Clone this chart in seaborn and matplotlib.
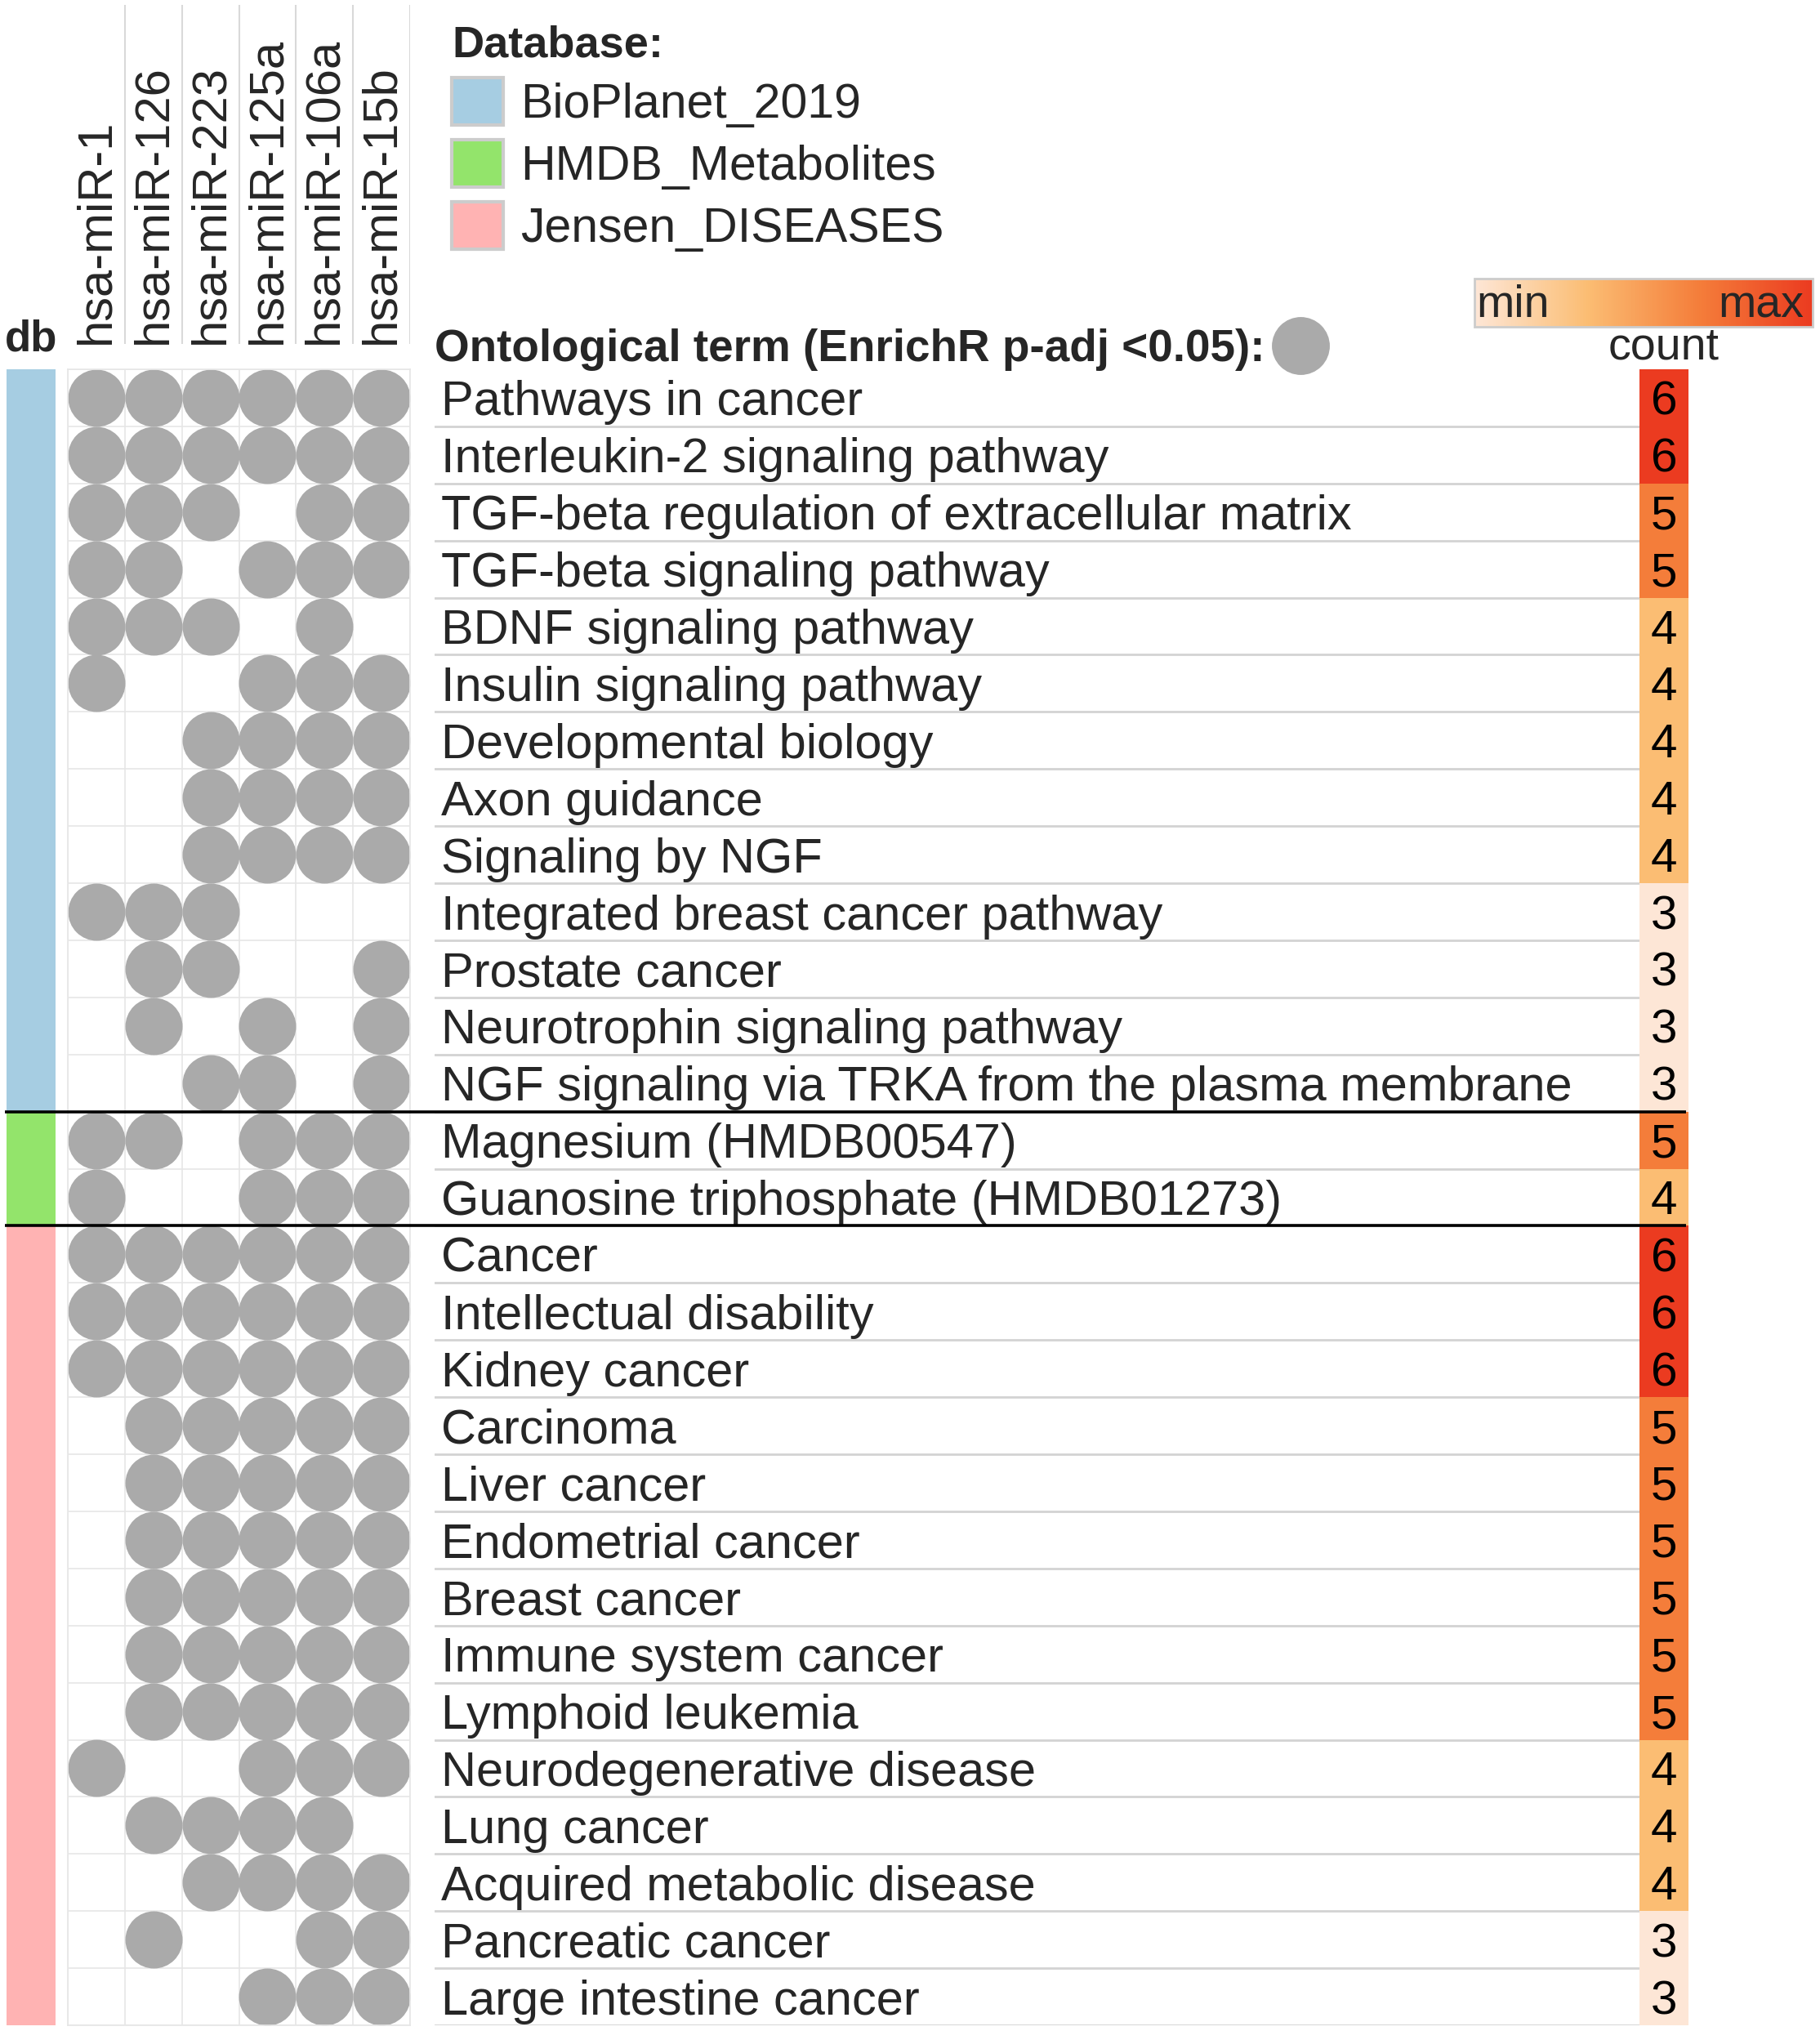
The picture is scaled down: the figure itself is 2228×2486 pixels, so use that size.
import numpy as np
import pandas as pd
import matplotlib
matplotlib.use("Agg")
import matplotlib.pyplot as plt
from matplotlib.colors import ListedColormap, LinearSegmentedColormap, Normalize
from matplotlib.cm import ScalarMappable
from matplotlib.patches import Patch
from matplotlib.lines import Line2D
import seaborn as sns

# --- data ---
mirnas = ["hsa-miR-1", "hsa-miR-126", "hsa-miR-223", "hsa-miR-125a", "hsa-miR-106a", "hsa-miR-15b"]

terms = [
    "Pathways in cancer",
    "Interleukin-2 signaling pathway",
    "TGF-beta regulation of extracellular matrix",
    "TGF-beta signaling pathway",
    "BDNF signaling pathway",
    "Insulin signaling pathway",
    "Developmental biology",
    "Axon guidance",
    "Signaling by NGF",
    "Integrated breast cancer pathway",
    "Prostate cancer",
    "Neurotrophin signaling pathway",
    "NGF signaling via TRKA from the plasma membrane",
    "Magnesium (HMDB00547)",
    "Guanosine triphosphate (HMDB01273)",
    "Cancer",
    "Intellectual disability",
    "Kidney cancer",
    "Carcinoma",
    "Liver cancer",
    "Endometrial cancer",
    "Breast cancer",
    "Immune system cancer",
    "Lymphoid leukemia",
    "Neurodegenerative disease",
    "Lung cancer",
    "Acquired metabolic disease",
    "Pancreatic cancer",
    "Large intestine cancer",
]

db_names = ["BioPlanet_2019", "HMDB_Metabolites", "Jensen_DISEASES"]
db_colors = ["#a6cde2", "#93e46b", "#ffb3b3"]
term_db = ["BioPlanet_2019"] * 13 + ["HMDB_Metabolites"] * 2 + ["Jensen_DISEASES"] * 14

# 1 = enriched (p-adj < 0.05) for that miRNA
hits = [
    [1, 1, 1, 1, 1, 1],
    [1, 1, 1, 1, 1, 1],
    [1, 1, 1, 0, 1, 1],
    [1, 1, 0, 1, 1, 1],
    [1, 1, 1, 0, 1, 0],
    [1, 0, 0, 1, 1, 1],
    [0, 0, 1, 1, 1, 1],
    [0, 0, 1, 1, 1, 1],
    [0, 0, 1, 1, 1, 1],
    [1, 1, 1, 0, 0, 0],
    [0, 1, 1, 0, 0, 1],
    [0, 1, 0, 1, 0, 1],
    [0, 0, 1, 1, 0, 1],
    [1, 1, 0, 1, 1, 1],
    [1, 0, 0, 1, 1, 1],
    [1, 1, 1, 1, 1, 1],
    [1, 1, 1, 1, 1, 1],
    [1, 1, 1, 1, 1, 1],
    [0, 1, 1, 1, 1, 1],
    [0, 1, 1, 1, 1, 1],
    [0, 1, 1, 1, 1, 1],
    [0, 1, 1, 1, 1, 1],
    [0, 1, 1, 1, 1, 1],
    [0, 1, 1, 1, 1, 1],
    [1, 0, 0, 1, 1, 1],
    [0, 1, 1, 1, 1, 0],
    [0, 0, 1, 1, 1, 1],
    [0, 1, 0, 0, 1, 1],
    [0, 0, 0, 1, 1, 1],
]

counts = [6, 6, 5, 5, 4, 4, 4, 4, 4, 3, 3, 3, 3, 5, 4, 6, 6, 6, 5, 5, 5, 5, 5, 5, 4, 4, 4, 3, 3]
count_colors = ["#fde6d6", "#fbbd73", "#f47d3a", "#eb3b20"]

# --- style ---
sns.set_style("white")
plt.rcParams["font.family"] = ["Liberation Sans", "DejaVu Sans"]

n = len(terms)
hit_df = pd.DataFrame(hits, columns=mirnas)
hit_df["row"] = range(n)
long_df = hit_df.melt(id_vars="row", var_name="mirna", value_name="hit")
long_df["col"] = long_df["mirna"].map({m: i for i, m in enumerate(mirnas)})
long_df = long_df[long_df["hit"] == 1]

cnt_cmap = LinearSegmentedColormap.from_list("cnt", count_colors)
db_codes = np.array([db_names.index(d) for d in term_db]).reshape(-1, 1)

W, H = 2228, 2486
fig = plt.figure(figsize=(W / 100, H / 100), dpi=100)


def box(x0, y0, x1, y1):
    return [x0 / W, 1 - y1 / H, (x1 - x0) / W, (y1 - y0) / H]


top, bot = 452, 2479
ax_db = fig.add_axes(box(8, top, 68, bot))
ax_dot = fig.add_axes(box(83, top, 502, bot))
ax_hdr = fig.add_axes(box(83, 6, 502, 421))
ax_lab = fig.add_axes(box(532, top, 2007, bot))
ax_cnt = fig.add_axes(box(2007, top, 2067, bot))
ax_cb = fig.add_axes(box(1805, 341, 2219, 400))
ax_sep = fig.add_axes(box(6, top, 2064, bot))

# db strip
sns.heatmap(db_codes, cmap=ListedColormap(db_colors), vmin=-0.5, vmax=2.5,
            cbar=False, xticklabels=False, yticklabels=False, ax=ax_db)
ax_db.set_title("db", fontsize=38, fontweight="bold", pad=16)

# dot matrix
sns.scatterplot(data=long_df, x="col", y="row", color="#aaaaaa", s=2540,
                linewidth=0, legend=False, ax=ax_dot)
ax_dot.set_xlim(-0.5, len(mirnas) - 0.5)
ax_dot.set_ylim(n - 0.5, -0.5)
ax_dot.set_xticks(range(len(mirnas)))
ax_dot.set_xticklabels(mirnas, rotation=90, fontsize=43)
ax_dot.xaxis.tick_top()
ax_dot.set_xticks(np.arange(len(mirnas) + 1) - 0.5, minor=True)
ax_dot.set_yticks(np.arange(n + 1) - 0.5, minor=True)
ax_dot.set_yticks([])
ax_dot.tick_params(axis="x", which="both", length=0, pad=22)
ax_dot.grid(which="minor", color="#e6e6e6", linewidth=1.2)
ax_dot.set_axisbelow(True)
ax_dot.set_xlabel("")
ax_dot.set_ylabel("")
for sp in ax_dot.spines.values():
    sp.set_color("#e6e6e6")
    sp.set_linewidth(1.2)

# header vertical lines
ax_hdr.set_xlim(-0.5, len(mirnas) - 0.5)
for i in range(len(mirnas)):
    ax_hdr.axvline(i + 0.5, color="#d9d9d9", linewidth=1.5)
ax_hdr.axis("off")

# term labels
ax_lab.set_xlim(0, 1)
ax_lab.set_ylim(n - 0.5, -0.5)
for i in range(n):
    ax_lab.axhline(i + 0.5, color="#d3d3d3", linewidth=2)
ax_lab.set_xticks([])
ax_lab.set_yticks(range(n))
ax_lab.set_yticklabels(terms, fontsize=42.8)
for t in ax_lab.get_yticklabels():
    t.set_horizontalalignment("left")
ax_lab.tick_params(axis="y", length=0, pad=-6)
for sp in ax_lab.spines.values():
    sp.set_visible(False)

# count column
sns.heatmap(np.array(counts).reshape(-1, 1), cmap=cnt_cmap, vmin=3, vmax=6,
            annot=True, fmt="d",
            annot_kws={"fontsize": 42, "color": "black", "va": "center_baseline"},
            cbar=False, xticklabels=False, yticklabels=False, ax=ax_cnt)
ax_cnt.set_title("count", fontsize=40, pad=-2)

# group separators
sizes = pd.Series(term_db).value_counts().reindex(db_names).values
ax_sep.set_xlim(0, 1)
ax_sep.set_ylim(n - 0.5, -0.5)
for b in np.cumsum(sizes)[:-1]:
    ax_sep.axhline(b - 0.5, color="black", linewidth=2.6)
ax_sep.axis("off")

# min-max colour bar
cb = fig.colorbar(ScalarMappable(norm=Normalize(3, 6), cmap=cnt_cmap), cax=ax_cb,
                  orientation="horizontal")
cb.set_ticks([])
cb.outline.set_edgecolor("#cccccc")
cb.outline.set_linewidth(2)
ax_cb.text(0.005, 0.2, "min", transform=ax_cb.transAxes, ha="left", va="baseline", fontsize=40)
ax_cb.text(0.975, 0.2, "max", transform=ax_cb.transAxes, ha="right", va="baseline", fontsize=40)

# legends
fig.legend(handles=[Patch(facecolor=c, edgecolor="#cccccc", linewidth=3) for c in db_colors],
           labels=db_names, title="Database:", loc="upper left",
           bbox_to_anchor=(553 / W, 1 - 30 / H), frameon=False, fontsize=42.5,
           title_fontproperties={"weight": "bold", "size": 39},
           handlelength=1.07, handleheight=1.15, handletextpad=0.35,
           labelspacing=0.25, borderpad=0, borderaxespad=0, alignment="left")

fig.legend(handles=[Line2D([], [], marker="o", linestyle="", color="#aaaaaa", markersize=50)],
           labels=["Ontological term (EnrichR p-adj <0.05):"], markerfirst=False,
           loc="center left", bbox_to_anchor=(532 / W, 1 - 428 / H), frameon=False,
           prop={"weight": "bold", "size": 39.5}, handletextpad=0.15, handlelength=1.3,
           borderpad=0, borderaxespad=0)

fig.savefig("out.png", dpi=100)
